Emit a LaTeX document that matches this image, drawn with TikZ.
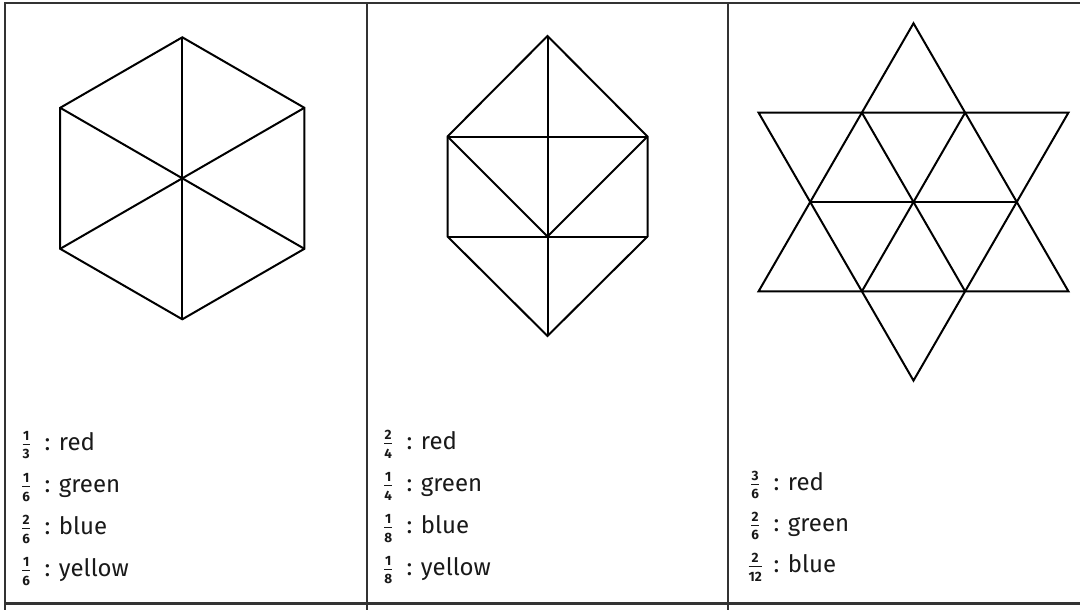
\documentclass[tikz,border=0pt]{standalone}
\usepackage{fontspec}
\setmainfont{Fira Sans}
\newcommand\myfr[2]{\hbox to 20pt{\hss$\frac{\mbox{\fontsize{13.5}{13.5}\selectfont\bfseries #1}}{\mbox{\fontsize{13.5}{13.5}\selectfont\bfseries #2}}$\hss}}
\newcommand\lineitem[3]{\myfr{#1}{#2}\hspace{8.5pt}: #3}
\tikzset{
  grid line/.style={line width=2.4pt, draw=black!80},
  shape line/.style={line width=2pt, draw=black, line join=miter},
  lbl/.style={inner sep=0pt, anchor=base west, text=black!90, font=\fontsize{24}{28}\selectfont},
}
\begin{document}
\begin{tikzpicture}[x=1pt,y=-1pt]
\useasboundingbox (0,0) rectangle (1080,610);
\fill[white] (0,0) rectangle (1080,610);
% table
\coordinate (tl) at (5,3.3);
\coordinate (tr) at (1080,3.3);
\coordinate (bl) at (5,603.3);
\coordinate (br) at (1080,603.3);
\draw[grid line] (tl) -- (tr);
\draw[grid line] (bl) -- (br);
\draw[grid line] (5,2.1) -- (5,610);
\draw[grid line] (366.7,2.1) -- (366.7,610);
\draw[grid line] (727.8,2.1) -- (727.8,610);
% hexagon
\coordinate (hT) at (182.3,37.3);
\coordinate (hUR) at (304.4,107.8);
\coordinate (hLR) at (304.4,248.8);
\coordinate (hB) at (182.3,319.3);
\coordinate (hLL) at (60.2,248.8);
\coordinate (hUL) at (60.2,107.8);
\draw[shape line] (hT) -- (hUR) -- (hLR) -- (hB) -- (hLL) -- (hUL) -- cycle;
\draw[shape line] (hT) -- (hB);
\draw[shape line] (hUL) -- (hLR);
\draw[shape line] (hUR) -- (hLL);
% house shape
\coordinate (dT) at (547.5,36);
\coordinate (dUL) at (447.5,136.5);
\coordinate (dUR) at (647.5,136.5);
\coordinate (dLL) at (447.5,236.5);
\coordinate (dLR) at (647.5,236.5);
\coordinate (dM) at (547.5,236.5);
\coordinate (dB) at (547.5,336);
\draw[shape line] (dT) -- (dUR) -- (dLR) -- (dB) -- (dLL) -- (dUL) -- cycle;
\draw[shape line] (dT) -- (dB);
\draw[shape line] (dUL) -- (dUR);
\draw[shape line] (dLL) -- (dLR);
\draw[shape line] (dUL) -- (dM) -- (dUR);
% star
\coordinate (sT) at (913.5,23.3);
\coordinate (a1) at (758.6,112.7);
\coordinate (a2) at (861.9,112.7);
\coordinate (a3) at (965.1,112.7);
\coordinate (a4) at (1068.4,112.7);
\coordinate (m1) at (810.2,202);
\coordinate (m3) at (1016.8,202);
\coordinate (b1) at (758.6,291.3);
\coordinate (b2) at (861.9,291.3);
\coordinate (b3) at (965.1,291.3);
\coordinate (b4) at (1068.4,291.3);
\coordinate (sB) at (913.5,380.6);
\draw[shape line] (sT) -- (b4) -- (b1) -- cycle;
\draw[shape line] (a1) -- (a4) -- (sB) -- cycle;
\draw[shape line] (m1) -- (m3);
\draw[shape line] (a2) -- (b3);
\draw[shape line] (a3) -- (b2);
% labels
\node[lbl] (c1r1) at (16,450) {\lineitem{1}{3}{red}};
\node[lbl] (c1r2) at (16,492.5) {\lineitem{1}{6}{green}};
\node[lbl] (c1r3) at (16,534.5) {\lineitem{2}{6}{blue}};
\node[lbl] (c1r4) at (16,576.5) {\lineitem{1}{6}{yellow}};
\node[lbl] (c2r1) at (378,449.5) {\lineitem{2}{4}{red}};
\node[lbl] (c2r2) at (378,491.5) {\lineitem{1}{4}{green}};
\node[lbl] (c2r3) at (378,533.5) {\lineitem{1}{8}{blue}};
\node[lbl] (c2r4) at (378,575) {\lineitem{1}{8}{yellow}};
\node[lbl] (c3r1) at (745,490) {\lineitem{3}{6}{red}};
\node[lbl] (c3r2) at (745,531) {\lineitem{2}{6}{green}};
\node[lbl] (c3r3) at (745,572.5) {\lineitem{2}{12}{blue}};
\end{tikzpicture}
\end{document}
